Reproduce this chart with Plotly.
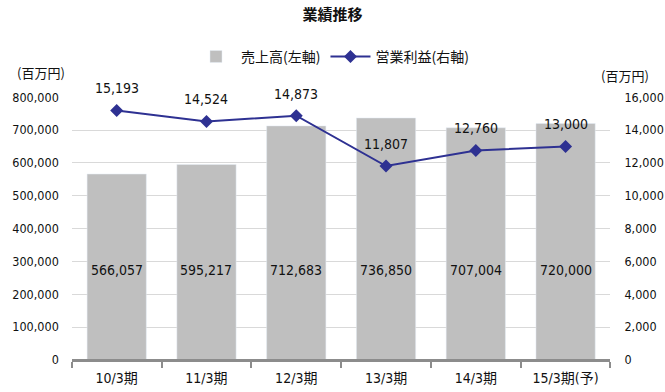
import plotly.graph_objects as go

categories = ["10/3期", "11/3期", "12/3期", "13/3期", "14/3期", "15/3期(予)"]
sales = [566057, 595217, 712683, 736850, 707004, 720000]
profit = [15193, 14524, 14873, 11807, 12760, 13000]
sales_label_level = 273000

NUM = "DejaVu Sans Condensed, Noto Sans CJK JP, sans-serif"
JP = "Noto Sans CJK JP, sans-serif"
fig = go.Figure()
fig.add_trace(go.Bar(x=categories, y=sales, name="売上高(左軸)", marker_color="#BFBFBF",
                     yaxis="y", hoverinfo="skip"))
fig.add_trace(go.Scatter(x=categories, y=profit, name="営業利益(右軸)", yaxis="y2",
                         mode="lines+markers", line=dict(color="#2E3192", width=2),
                         marker=dict(symbol="diamond", size=10, color="#2E3192")))

annotations = []
for c, v in zip(categories, sales):
    annotations.append(dict(x=c, y=sales_label_level, xref="x", yref="y", text=f"{v:,}",
                            showarrow=False, font=dict(size=14, color="#111", family=NUM)))
for c, v in zip(categories, profit):
    annotations.append(dict(x=c, y=v, xref="x", yref="y2", text=f"{v:,}", yshift=22,
                            showarrow=False, font=dict(size=14, color="#111", family=NUM)))
annotations.append(dict(x=0.062, y=0.815, xref="paper", yref="paper", text="(百万円)",
                        showarrow=False, xanchor="center", yanchor="middle",
                        font=dict(size=13, color="#111", family=JP)))
annotations.append(dict(x=0.94, y=0.808, xref="paper", yref="paper", text="(百万円)",
                        showarrow=False, xanchor="center", yanchor="middle",
                        font=dict(size=13, color="#111", family=JP)))
fig.update_layout(annotations=annotations)

fig.update_layout(
    width=665, height=392,
    margin=dict(l=0, r=0, t=0, b=0),
    paper_bgcolor="white", plot_bgcolor="white",
    font=dict(family=NUM, size=12, color="#111"),
    title=dict(text="<b>業績推移</b>", x=0.5, xanchor="center", y=0.962, yanchor="middle",
               font=dict(size=15, family=JP)),
    showlegend=True,
    legend=dict(orientation="h", x=0.5, xanchor="center", y=0.855, yanchor="middle",
                font=dict(size=14, family=JP), bgcolor="rgba(0,0,0,0)", itemwidth=40),
    bargap=0.34,
    xaxis=dict(domain=[0.108, 0.918], anchor="free", position=0.082, automargin=False,
               showline=True, linecolor="#8C8C8C", linewidth=3,
               ticks="outside", tickson="boundaries", ticklen=6, tickcolor="#8C8C8C", tickwidth=2,
               ticklabelstandoff=4,
               tickfont=dict(size=14, family=NUM), showgrid=False),
    yaxis=dict(domain=[0.082, 0.752], range=[0, 800000], dtick=100000, tickformat=",",
               automargin=False,
               showgrid=True, gridcolor="#D9D9D9", gridwidth=1, zeroline=False,
               showline=False, ticks="", ticklabelstandoff=12, tickfont=dict(size=12.5)),
    yaxis2=dict(overlaying="y", side="right", range=[0, 16000], dtick=2000, tickformat=",",
                automargin=False,
                showgrid=False, zeroline=False, showline=False, ticks="",
                ticklabelstandoff=13, tickfont=dict(size=12.5)),
)
fig.write_html("out.html", config={"displayModeBar": False},
               post_script="document.body.style.margin='0';document.body.style.overflow='hidden';")
